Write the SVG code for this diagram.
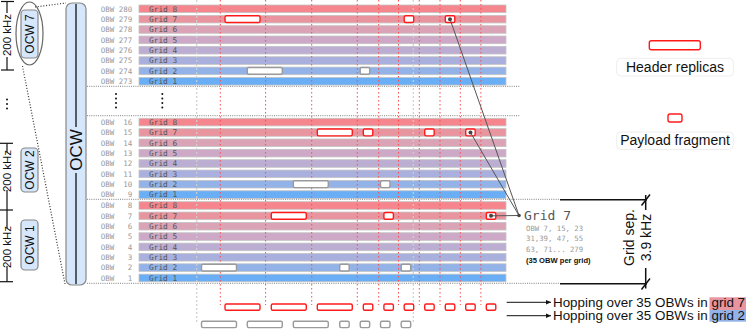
<svg xmlns="http://www.w3.org/2000/svg" width="747" height="331" viewBox="0 0 747 331">
<defs>
<style>
.row{stroke:#c4c4c4;stroke-width:0.8}
.g8{fill:#f5868d}.g7{fill:#e8959f}.g6{fill:#dba3b6}.g5{fill:#cda9c7}.g4{fill:#bcaed3}.g3{fill:#a9b0de}.g2{fill:#92b2e8}.g1{fill:#6aaef6}
.obw{font-family:"DejaVu Sans Mono",monospace;font-size:7.5px;fill:#999}
.gl{font-family:"DejaVu Sans Mono",monospace;font-size:7.8px;fill:#555}
.hdr{fill:#fff;stroke:#ff1a1a;stroke-width:1.4}
.gry{fill:#fff;stroke:#9a9a9a;stroke-width:1.4}
.rdot{stroke:#ff4d4d;stroke-width:1;stroke-dasharray:1.5 2.5;fill:none}
.gdot{stroke:#cfcfcf;stroke-width:1.2;stroke-dasharray:2 2;fill:none}
.sep{stroke:#9a9a9a;stroke-width:1.3;stroke-dasharray:1 1.2;fill:none}
.ocw{fill:#d7e7fb;stroke:#888;stroke-width:1.2}
.sans{font-family:"Liberation Sans",Arial,sans-serif}
.conn{stroke:#555;stroke-width:1;fill:none}
.blk{stroke:#111;fill:none}
.dd{fill:#111}
</style>
<marker id="arr" viewBox="0 0 6 6" refX="5" refY="3" markerWidth="6" markerHeight="6" orient="auto">
<path d="M0,0.8 L5,3 L0,5.2 z" fill="#111"/>
</marker>
</defs>

<!-- frequency axis -->
<g id="freq-axis" class="blk" stroke-width="1.2">
<line x1="7" y1="1.5" x2="7" y2="13"/><line x1="7" y1="57" x2="7" y2="70"/>
<line x1="1" y1="1.5" x2="14" y2="1.5"/><line x1="1" y1="70" x2="14" y2="70"/>
<line x1="7" y1="143.3" x2="7" y2="152"/><line x1="7" y1="190" x2="7" y2="228"/><line x1="7" y1="266" x2="7" y2="281.7"/>
<line x1="0" y1="143.3" x2="13" y2="143.3"/><line x1="0" y1="210" x2="13" y2="210"/><line x1="0" y1="281.7" x2="13" y2="281.7"/>
</g>
<g class="sans" font-size="11.5" fill="#111" text-anchor="middle">
<text transform="translate(11.2,35) rotate(-90)">200 kHz</text>
<text transform="translate(11.2,171) rotate(-90)">200 kHz</text>
<text transform="translate(11.2,247) rotate(-90)">200 kHz</text>
</g>
<g class="dd"><circle cx="7" cy="99.5" r="1"/><circle cx="7" cy="104" r="1"/><circle cx="7" cy="108.5" r="1"/></g>

<!-- small OCW nodes -->
<g id="ocw7">
<rect class="ocw" x="21" y="10" width="17" height="48" rx="4"/>
<text class="sans" font-size="12" fill="#111" text-anchor="middle" transform="translate(33.8,34) rotate(-90)">OCW 7</text>
<ellipse cx="29.5" cy="33.5" rx="13.5" ry="31.5" fill="none" stroke="#666" stroke-width="1.2"/>
</g>
<g id="ocw2">
<rect class="ocw" x="21" y="148" width="17" height="44" rx="4"/>
<text class="sans" font-size="12" fill="#111" text-anchor="middle" transform="translate(33.8,170) rotate(-90)">OCW 2</text>
</g>
<g id="ocw1">
<rect class="ocw" x="21" y="220" width="17" height="50" rx="4"/>
<text class="sans" font-size="12" fill="#111" text-anchor="middle" transform="translate(33.8,245) rotate(-90)">OCW 1</text>
</g>

<!-- zoom dotted connectors -->
<g id="zoom-lines" stroke="#333" stroke-width="1.2" stroke-dasharray="1 1.8" fill="none">
<line x1="35" y1="7" x2="66" y2="3"/>
<line x1="22.5" y1="66" x2="65" y2="284"/>
</g>

<!-- big OCW bar -->
<g id="ocw">
<rect class="ocw" x="66" y="3" width="20" height="282" rx="6"/>
<line x1="76" y1="4" x2="76" y2="127" stroke="#111" stroke-width="1.3"/>
<line x1="76" y1="173" x2="76" y2="284" stroke="#111" stroke-width="1.3"/>
<text class="sans" font-size="17" fill="#111" text-anchor="middle" transform="translate(82,150) rotate(-90)">OCW</text>
</g>

<!-- rows -->
<g id="block-top">
<rect class="row g8" x="139" y="5" width="367" height="7.6"/>
<rect class="row g7" x="139" y="15.35" width="367" height="7.6"/>
<rect class="row g6" x="139" y="25.7" width="367" height="7.6"/>
<rect class="row g5" x="139" y="36.05" width="367" height="7.6"/>
<rect class="row g4" x="139" y="46.4" width="367" height="7.6"/>
<rect class="row g3" x="139" y="56.75" width="367" height="7.6"/>
<rect class="row g2" x="139" y="67.1" width="367" height="7.6"/>
<rect class="row g1" x="139" y="77.45" width="367" height="7.6"/>
<g class="obw">
<text x="100.7" y="11.6">OBW</text><text x="100.7" y="21.95">OBW</text><text x="100.7" y="32.3">OBW</text><text x="100.7" y="42.65">OBW</text><text x="100.7" y="53">OBW</text><text x="100.7" y="63.35">OBW</text><text x="100.7" y="73.7">OBW</text><text x="100.7" y="84.05">OBW</text>
<g text-anchor="end">
<text x="132.3" y="11.6">280</text><text x="132.3" y="21.95">279</text><text x="132.3" y="32.3">278</text><text x="132.3" y="42.65">277</text><text x="132.3" y="53">276</text><text x="132.3" y="63.35">275</text><text x="132.3" y="73.7">274</text><text x="132.3" y="84.05">273</text>
</g></g>
<g class="gl">
<text x="149" y="11.6">Grid 8</text><text x="149" y="21.95">Grid 7</text><text x="149" y="32.3">Grid 6</text><text x="149" y="42.65">Grid 5</text><text x="149" y="53">Grid 4</text><text x="149" y="63.35">Grid 3</text><text x="149" y="73.7">Grid 2</text><text x="149" y="84.05">Grid 1</text>
</g>
</g>

<g id="block-mid">
<rect class="row g8" x="139" y="118.3" width="367" height="7.6"/>
<rect class="row g7" x="139" y="128.65" width="367" height="7.6"/>
<rect class="row g6" x="139" y="139" width="367" height="7.6"/>
<rect class="row g5" x="139" y="149.35" width="367" height="7.6"/>
<rect class="row g4" x="139" y="159.7" width="367" height="7.6"/>
<rect class="row g3" x="139" y="170.05" width="367" height="7.6"/>
<rect class="row g2" x="139" y="180.4" width="367" height="7.6"/>
<rect class="row g1" x="139" y="190.75" width="367" height="7.6"/>
<g class="obw">
<text x="100.7" y="124.9">OBW</text><text x="100.7" y="135.25">OBW</text><text x="100.7" y="145.6">OBW</text><text x="100.7" y="155.95">OBW</text><text x="100.7" y="166.3">OBW</text><text x="100.7" y="176.65">OBW</text><text x="100.7" y="187">OBW</text><text x="100.7" y="197.35">OBW</text>
<g text-anchor="end">
<text x="132.3" y="124.9">16</text><text x="132.3" y="135.25">15</text><text x="132.3" y="145.6">14</text><text x="132.3" y="155.95">13</text><text x="132.3" y="166.3">12</text><text x="132.3" y="176.65">11</text><text x="132.3" y="187">10</text><text x="132.3" y="197.35">9</text>
</g></g>
<g class="gl">
<text x="149" y="124.9">Grid 8</text><text x="149" y="135.25">Grid 7</text><text x="149" y="145.6">Grid 6</text><text x="149" y="155.95">Grid 5</text><text x="149" y="166.3">Grid 4</text><text x="149" y="176.65">Grid 3</text><text x="149" y="187">Grid 2</text><text x="149" y="197.35">Grid 1</text>
</g>
</g>

<g id="block-bot">
<rect class="row g8" x="139" y="201.7" width="367" height="7.6"/>
<rect class="row g7" x="139" y="212.05" width="367" height="7.6"/>
<rect class="row g6" x="139" y="222.4" width="367" height="7.6"/>
<rect class="row g5" x="139" y="232.75" width="367" height="7.6"/>
<rect class="row g4" x="139" y="243.1" width="367" height="7.6"/>
<rect class="row g3" x="139" y="253.45" width="367" height="7.6"/>
<rect class="row g2" x="139" y="263.8" width="367" height="7.6"/>
<rect class="row g1" x="139" y="274.15" width="367" height="7.6"/>
<g class="obw">
<text x="100.7" y="208.3">OBW</text><text x="100.7" y="218.65">OBW</text><text x="100.7" y="229">OBW</text><text x="100.7" y="239.35">OBW</text><text x="100.7" y="249.7">OBW</text><text x="100.7" y="260.05">OBW</text><text x="100.7" y="270.4">OBW</text><text x="100.7" y="280.75">OBW</text>
<g text-anchor="end">
<text x="132.3" y="208.3">8</text><text x="132.3" y="218.65">7</text><text x="132.3" y="229">6</text><text x="132.3" y="239.35">5</text><text x="132.3" y="249.7">4</text><text x="132.3" y="260.05">3</text><text x="132.3" y="270.4">2</text><text x="132.3" y="280.75">1</text>
</g></g>
<g class="gl">
<text x="149" y="208.3">Grid 8</text><text x="149" y="218.65">Grid 7</text><text x="149" y="229">Grid 6</text><text x="149" y="239.35">Grid 5</text><text x="149" y="249.7">Grid 4</text><text x="149" y="260.05">Grid 3</text><text x="149" y="270.4">Grid 2</text><text x="149" y="280.75">Grid 1</text>
</g>
</g>

<g id="ellipsis" class="dd">
<circle cx="116" cy="94" r="1"/><circle cx="116" cy="98.5" r="1"/><circle cx="116" cy="103" r="1"/><circle cx="116" cy="107.5" r="1"/>
<circle cx="162.3" cy="94" r="1"/><circle cx="162.3" cy="98.5" r="1"/><circle cx="162.3" cy="103" r="1"/><circle cx="162.3" cy="107.5" r="1"/>
</g>

<!-- separators -->
<g id="separators" class="sep">
<line x1="87" y1="86.3" x2="520" y2="86.3"/>
<line x1="87" y1="115.7" x2="520" y2="115.7"/>
<line x1="87" y1="199.3" x2="560" y2="199.3"/>
<line x1="87" y1="283.3" x2="560" y2="283.3"/>
</g>

<!-- hop guide lines -->
<g id="guides">
<g class="gdot"><line x1="196.7" y1="0" x2="196.7" y2="324"/><line x1="413.3" y1="0" x2="413.3" y2="324"/></g>
<g class="rdot">
<line x1="220.3" y1="0" x2="220.3" y2="305"/><line x1="265.6" y1="0" x2="265.6" y2="305"/><line x1="311.7" y1="0" x2="311.7" y2="305"/><line x1="357.3" y1="0" x2="357.3" y2="305"/><line x1="378.7" y1="0" x2="378.7" y2="305"/>
<line x1="398.5" y1="0" x2="398.5" y2="305"/><line x1="419.3" y1="0" x2="419.3" y2="305"/><line x1="440" y1="0" x2="440" y2="305"/><line x1="460.3" y1="0" x2="460.3" y2="305"/><line x1="480.9" y1="0" x2="480.9" y2="305"/>
</g>
</g>

<!-- fragments in grids -->
<g id="fragments">
<rect class="hdr" x="225" y="15.75" width="35" height="6.8" rx="1.5"/>
<rect class="hdr" x="404.2" y="15.75" width="9.5" height="6.8" rx="1.5"/>
<rect class="hdr" x="445.3" y="15.75" width="9.5" height="6.8" rx="1.5"/>
<rect class="gry" x="247.3" y="67.5" width="35" height="6.8" rx="1.5"/>
<rect class="gry" x="360.2" y="67.5" width="9.5" height="6.8" rx="1.5"/>

<rect class="hdr" x="317.3" y="129.05" width="35" height="6.8" rx="1.5"/>
<rect class="hdr" x="363.3" y="129.05" width="9.5" height="6.8" rx="1.5"/>
<rect class="hdr" x="424.7" y="129.05" width="9.5" height="6.8" rx="1.5"/>
<rect class="hdr" x="465.7" y="129.05" width="9.5" height="6.8" rx="1.5"/>
<rect class="gry" x="293.3" y="180.8" width="35" height="6.8" rx="1.5"/>
<rect class="gry" x="380.5" y="180.8" width="9.5" height="6.8" rx="1.5"/>

<rect class="hdr" x="271.3" y="212.45" width="35" height="6.8" rx="1.5"/>
<rect class="hdr" x="383.9" y="212.45" width="9.5" height="6.8" rx="1.5"/>
<rect class="hdr" x="486.3" y="212.45" width="9.5" height="6.8" rx="1.5"/>
<rect class="gry" x="201.5" y="264.2" width="35" height="6.8" rx="1.5"/>
<rect class="gry" x="339.7" y="264.2" width="9.5" height="6.8" rx="1.5"/>
<rect class="gry" x="401.2" y="264.2" width="9.5" height="6.8" rx="1.5"/>
</g>

<!-- hopping sequences -->
<g id="hop-grid7">
<rect class="hdr" x="225" y="304" width="35" height="6.3" rx="1.5"/>
<rect class="hdr" x="271.3" y="304" width="35" height="6.3" rx="1.5"/>
<rect class="hdr" x="317.3" y="304" width="35" height="6.3" rx="1.5"/>
<rect class="hdr" x="363.3" y="304" width="9.5" height="6.3" rx="1.5"/>
<rect class="hdr" x="383.9" y="304" width="9.5" height="6.3" rx="1.5"/>
<rect class="hdr" x="404.2" y="304" width="9.5" height="6.3" rx="1.5"/>
<rect class="hdr" x="424.7" y="304" width="9.5" height="6.3" rx="1.5"/>
<rect class="hdr" x="445.3" y="304" width="9.5" height="6.3" rx="1.5"/>
<rect class="hdr" x="465.7" y="304" width="9.5" height="6.3" rx="1.5"/>
<rect class="hdr" x="486.3" y="304" width="9.5" height="6.3" rx="1.5"/>
</g>
<g id="hop-grid2">
<rect class="gry" x="201.5" y="321.3" width="35" height="6.3" rx="1.5"/>
<rect class="gry" x="247.3" y="321.3" width="35" height="6.3" rx="1.5"/>
<rect class="gry" x="293.3" y="321.3" width="35" height="6.3" rx="1.5"/>
<rect class="gry" x="339.7" y="321.3" width="9.5" height="6.3" rx="1.5"/>
<rect class="gry" x="360.2" y="321.3" width="9.5" height="6.3" rx="1.5"/>
<rect class="gry" x="380.5" y="321.3" width="9.5" height="6.3" rx="1.5"/>
<rect class="gry" x="401.2" y="321.3" width="9.5" height="6.3" rx="1.5"/>
</g>

<!-- connectors to Grid 7 label -->
<g id="connectors">
<line class="conn" x1="450" y1="19.15" x2="519" y2="215.5"/>
<line class="conn" x1="470.45" y1="132.45" x2="519" y2="215.5"/>
<line class="conn" x1="491.05" y1="215.85" x2="519" y2="215.5" stroke="#888"/>
<g fill="#444">
<circle cx="450" cy="19.15" r="2"/><circle cx="470.45" cy="132.45" r="2"/><circle cx="491.05" cy="215.85" r="2"/><circle cx="519" cy="215.5" r="1.8"/>
</g>
<line class="blk" x1="506.7" y1="302.3" x2="551" y2="302.3" stroke-width="1" marker-end="url(#arr)"/>
<line class="blk" x1="506.7" y1="315.7" x2="551" y2="315.7" stroke-width="1" marker-end="url(#arr)"/>
</g>

<!-- Grid 7 annotation -->
<g id="grid7-note">
<text x="524" y="219.5" font-family="DejaVu Sans Mono,monospace" font-size="13" fill="#555">Grid 7</text>
<g font-family="DejaVu Sans Mono,monospace" font-size="7.3" fill="#999">
<text x="526" y="231">OBW 7, 15, 23</text>
<text x="526" y="241.2">31,39, 47, 55</text>
<text x="526" y="251.5">63, 71... 279</text>
</g>
<text class="sans" x="526" y="263" font-size="7.6" font-weight="bold" fill="#111">(35 OBW per grid)</text>
</g>

<!-- grid separation dimension -->
<g id="grid-sep">
<g class="blk" stroke-width="1.5">
<line x1="560" y1="199.8" x2="647" y2="199.8"/>
<line x1="560" y1="283.8" x2="647" y2="283.8"/>
<line x1="645.7" y1="195" x2="645.7" y2="210"/>
<line x1="645.7" y1="268" x2="645.7" y2="288.5"/>
<line x1="641.5" y1="205.5" x2="650" y2="194.5"/>
<line x1="641.5" y1="289.5" x2="650" y2="278.5"/>
</g>
<g class="sans" font-size="14" fill="#111" text-anchor="middle">
<text transform="translate(633.5,237.5) rotate(-90)">Grid sep.</text>
<text transform="translate(650.5,237.5) rotate(-90)">3.9 kHz</text>
</g>
</g>

<!-- legend -->
<g id="legend-header">
<rect class="hdr" x="649.3" y="40.7" width="51" height="9" rx="2"/>
<rect x="616.7" y="58.3" width="116.6" height="17.7" rx="4" fill="#fff" stroke="#eee"/>
<text class="sans" x="675" y="71.5" font-size="14" fill="#111" text-anchor="middle">Header replicas</text>
</g>
<g id="legend-payload">
<rect class="hdr" x="668" y="114" width="14" height="8" rx="2"/>
<rect x="616.7" y="132" width="116.6" height="17.5" rx="4" fill="#fff" stroke="#eee"/>
<text class="sans" x="675" y="145" font-size="14" fill="#111" text-anchor="middle">Payload fragment</text>
</g>

<!-- hopping captions -->
<g id="captions">
<rect x="709.5" y="297.3" width="36.5" height="12.7" fill="#e8959f"/>
<rect x="709.5" y="310" width="36.5" height="11.7" fill="#92b2e8"/>
<g class="sans" font-size="12" fill="#111">
<text x="553" y="306.5" textLength="192" lengthAdjust="spacingAndGlyphs">Hopping over 35 OBWs in grid 7</text>
<text x="553" y="320" textLength="192" lengthAdjust="spacingAndGlyphs">Hopping over 35 OBWs in grid 2</text>
</g>
</g>
</svg>
